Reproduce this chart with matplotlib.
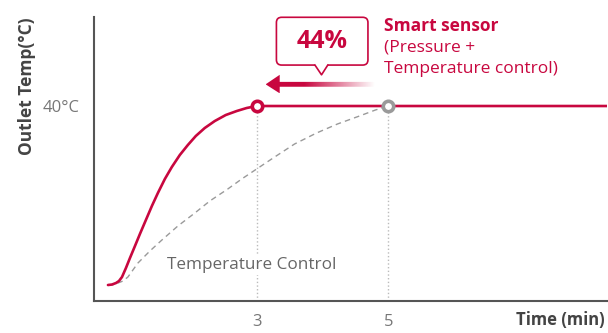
import numpy as np
import matplotlib
matplotlib.use('Agg')
import matplotlib.pyplot as plt
from matplotlib.patches import FancyBboxPatch, Polygon

plt.rcParams['font.family'] = ['Open Sans', 'DejaVu Sans']

# outlet temperature vs time, smart sensor (pressure + temperature)
smart_t = [0.742, 0.803, 0.864, 0.909, 0.955, 1.015, 1.076, 1.152, 1.227, 1.318, 1.409, 1.5,
           1.606, 1.712, 1.833, 1.955, 2.076, 2.212, 2.364, 2.53, 2.697, 2.848, 3.0, 8.32]
smart_T = [3.28, 3.38, 3.69, 4.10, 4.92, 6.77, 8.82, 11.28, 13.74, 16.62, 19.49, 22.15,
           25.03, 27.49, 29.95, 32.0, 33.85, 35.49, 36.92, 38.15, 38.97, 39.59, 40.0, 40.0]

# temperature control only
temp_t = [0.742, 0.818, 0.894, 0.970, 1.045, 1.121, 1.197, 1.379, 1.561, 1.803, 2.061,
          2.288, 2.561, 2.773, 3.0, 3.273, 3.576, 3.909, 4.227, 4.561, 4.803, 5.0]
temp_T = [3.28, 3.34, 3.69, 4.10, 4.92, 6.36, 7.79, 10.26, 12.51, 15.38, 18.05,
          20.51, 22.97, 25.03, 27.08, 29.54, 32.21, 34.46, 36.31, 37.95, 39.18, 40.0]

target_T = 40
reach_smart = 3
reach_temp = 5
saving = '44%'

red = '#C8073F'
grey = '#9a9a9a'
dark = '#444444'

fig = plt.figure(figsize=(6.08, 3.33), dpi=100)
ax = fig.add_axes([94/608, 32/333, 513/608, 284/333])

# vertical guides down to the time axis
for t in [reach_smart, reach_temp]:
    ax.plot([t, t], [0, target_T], color='#bbbbbb', lw=1, ls=':', zorder=1)

ax.plot(temp_t, temp_T, color=grey, lw=1.0, dashes=(4, 3), zorder=2)
ax.plot(smart_t, smart_T, color=red, lw=1.9, zorder=3, solid_capstyle='round',
        solid_joinstyle='round')

ax.plot(reach_temp, target_T, 'o', ms=7.5, mfc='white', mec=grey, mew=2.6, zorder=5)
ax.plot(reach_smart, target_T, 'o', ms=7.5, mfc='white', mec=red, mew=2.6, zorder=5)

ax.text(1.64, 7.4, 'Temperature Control', color='#666666', fontsize=12.3, va='center',
        bbox=dict(fc='white', ec='none', pad=1.5), zorder=4)

# arrow with fading tail
arrow = Polygon([(3.136, 44.45), (3.35, 46.4), (3.35, 44.95), (4.79, 44.95),
                 (4.79, 43.95), (3.35, 43.95), (3.35, 42.6)],
                closed=True, fc='none', ec='none', transform=ax.transData)
ax.add_patch(arrow)
xs = np.linspace(3.136, 4.79, 200)
alpha = np.clip((4.79 - xs) / (4.79 - 3.72), 0, 1)
grad = np.zeros((1, len(xs), 4))
grad[..., :3] = matplotlib.colors.to_rgb(red)
grad[0, :, 3] = alpha
img = ax.imshow(grad, extent=(3.136, 4.79, 42.6, 46.4), aspect='auto', zorder=4,
                interpolation='bilinear')
img.set_clip_path(arrow)

# callout box
box = FancyBboxPatch((3.30, 48.4), 1.39, 9.8, boxstyle='round,pad=0,rounding_size=0.08',
                     mutation_aspect=13.5, fc='white', ec=red, lw=1.2, clip_on=False, zorder=6)
ax.add_patch(box)
ax.add_patch(Polygon([(3.885, 49.0), (3.885, 48.4), (3.985, 46.4), (4.08, 48.4), (4.08, 49.0)],
                     closed=True, fc='white', ec='none', zorder=7, clip_on=False))
ax.plot([3.885, 3.985, 4.08], [48.4, 46.4, 48.4], color=red, lw=1.2, zorder=8, clip_on=False)
ax.text(3.99, 53.3, saving, color=red, fontsize=18, fontweight='bold',
        ha='center', va='center', zorder=9)

ax.text(4.94, 55.4, 'Smart sensor', color=red, fontsize=12.5, fontweight='bold', va='baseline')
ax.text(4.94, 51.1, '(Pressure +', color=red, fontsize=12.5, va='baseline')
ax.text(4.94, 46.8, 'Temperature control)', color=red, fontsize=12.5, va='baseline')

ax.set_xlim(0.53, 8.32)
ax.set_ylim(0, 58.26)
ax.set_xticks([reach_smart, reach_temp])
ax.set_xticklabels(['3', '5'])
ax.set_yticks([target_T])
ax.set_yticklabels(['40°C'])
ax.tick_params(length=0, labelsize=12, colors='#777777')
ax.tick_params(axis='x', pad=9)
ax.tick_params(axis='y', pad=10)
for s in ['top', 'right']:
    ax.spines[s].set_visible(False)
for s in ['left', 'bottom']:
    ax.spines[s].set_color('#555555')
    ax.spines[s].set_linewidth(1.5)

fig.text(27/608, 1 - 86/333, 'Outlet Temp(°C)', rotation=90, ha='center', va='center',
         fontsize=12.5, fontweight='bold', color=dark)
fig.text(605/608, 1 - 320/333, 'Time (min)', ha='right', va='center',
         fontsize=12, fontweight='bold', color=dark)

fig.savefig('out.png', dpi=100)
